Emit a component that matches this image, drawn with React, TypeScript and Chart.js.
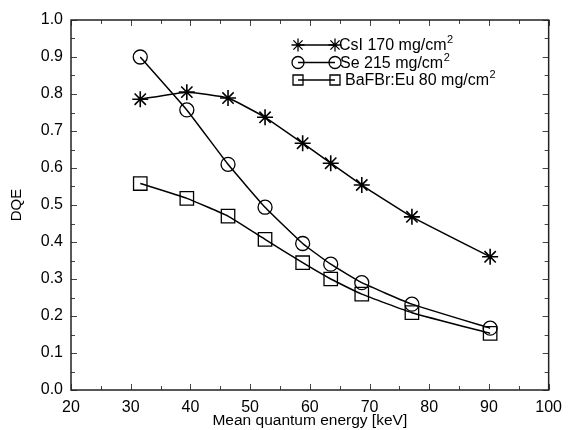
import React, { useEffect, useRef } from "react";
import { Chart, registerables } from "chart.js";

Chart.register(...registerables);

const energies = [31.6, 39.4, 46.3, 52.5, 58.8, 63.5, 68.7, 77.1, 90.2];
const csiValues = [0.786, 0.805, 0.789, 0.737, 0.667, 0.613, 0.554, 0.468, 0.36];
const seValues = [0.9, 0.757, 0.61, 0.494, 0.396, 0.34, 0.29, 0.232, 0.167];
const bafbrValues = [0.558, 0.518, 0.47, 0.407, 0.344, 0.3, 0.259, 0.209, 0.153];
const seriesLabels = ["CsI 170 mg/cm", "Se 215 mg/cm", "BaFBr:Eu 80 mg/cm"];
const seriesStyles = ["star", "circle", "rect"];
const superscript = "2";
const xMin = 20;
const xMax = 100;
const xMajor = 10;
const xMinor = 5;
const yMin = 0;
const yMax = 1;
const yMajor = 0.1;
const yMinor = 0.05;
const xTitle = "Mean quantum energy [keV]";
const yTitle = "DQE";

const FONT = "'Liberation Sans', Arial, Helvetica, sans-serif";

function drawMarker(ctx: CanvasRenderingContext2D, style: string, x: number, y: number, r: number) {
  ctx.beginPath();
  if (style === "circle") {
    ctx.arc(x, y, r, 0, Math.PI * 2);
  } else if (style === "rect") {
    ctx.rect(x - r, y - r, 2 * r, 2 * r);
  } else {
    for (let k = 0; k < 4; k++) {
      const ang = (k * Math.PI) / 4;
      ctx.moveTo(x - Math.cos(ang) * r, y - Math.sin(ang) * r);
      ctx.lineTo(x + Math.cos(ang) * r, y + Math.sin(ang) * r);
    }
  }
  ctx.stroke();
}

const framePlugin = {
  id: "framePlugin",
  afterDraw(chart: any) {
    const { ctx, chartArea: a, scales } = chart;
    const xs = scales.x;
    const ys = scales.y;
    ctx.save();
    ctx.strokeStyle = "#444";
    ctx.lineWidth = 1;
    const n = Math.round((xMax - xMin) / xMinor);
    for (let i = 0; i <= n; i++) {
      const v = xMin + i * xMinor;
      const px = Math.round(xs.getPixelForValue(v)) + 0.5;
      const len = i % Math.round(xMajor / xMinor) === 0 ? 6 : 4;
      ctx.beginPath();
      ctx.moveTo(px, a.bottom);
      ctx.lineTo(px, a.bottom - len);
      ctx.moveTo(px, a.top);
      ctx.lineTo(px, a.top + len);
      ctx.stroke();
    }
    const m = Math.round((yMax - yMin) / yMinor);
    for (let i = 0; i <= m; i++) {
      const v = yMin + i * yMinor;
      const py = Math.round(ys.getPixelForValue(v)) + 0.5;
      const len = i % Math.round(yMajor / yMinor) === 0 ? 6 : 4;
      ctx.beginPath();
      ctx.moveTo(a.left, py);
      ctx.lineTo(a.left + len, py);
      ctx.moveTo(a.right, py);
      ctx.lineTo(a.right - len, py);
      ctx.stroke();
    }
    ctx.strokeStyle = "#222";
    ctx.lineWidth = 1.5;
    ctx.strokeRect(a.left, a.top, a.right - a.left, a.bottom - a.top);

    // legend
    const lx1 = 298;
    const lx2 = 335;
    const rows = [45, 62.5, 80];
    const textX = [339, 340, 345];
    const markerR = [6.5, 6, 5];
    for (let i = 0; i < seriesLabels.length; i++) {
      const y = rows[i];
      ctx.strokeStyle = "#000";
      ctx.lineWidth = 1.3;
      ctx.beginPath();
      ctx.moveTo(lx1, y);
      ctx.lineTo(lx2, y);
      ctx.stroke();
      drawMarker(ctx, seriesStyles[i], lx1, y, markerR[i]);
      drawMarker(ctx, seriesStyles[i], lx2, y, markerR[i]);
      ctx.fillStyle = "#000";
      ctx.font = `16px ${FONT}`;
      ctx.textAlign = "left";
      ctx.textBaseline = "middle";
      ctx.fillText(seriesLabels[i], textX[i], y + 1);
      const w = ctx.measureText(seriesLabels[i]).width;
      ctx.font = `11px ${FONT}`;
      ctx.fillText(superscript, textX[i] + w + 0.5, y - 5);
    }
    ctx.restore();
  },
};

export default function App() {
  const ref = useRef<HTMLCanvasElement | null>(null);
  useEffect(() => {
    if (!ref.current) return;
    const mk = (vals: number[]) => energies.map((x, i) => ({ x, y: vals[i] }));
    const common = {
      borderColor: "#000",
      borderWidth: 1.5,
      backgroundColor: "rgba(0,0,0,0)",
      pointBorderColor: "#000",
      pointBackgroundColor: "rgba(0,0,0,0)",
      pointBorderWidth: 1.3,
      tension: 0.12,
      fill: false,
    };
    const chart = new Chart(ref.current, {
      type: "line",
      data: {
        datasets: [
          { ...common, label: seriesLabels[0], data: mk(csiValues), pointStyle: "star", pointRadius: 8, pointBorderWidth: 1.6 },
          { ...common, label: seriesLabels[1], data: mk(seValues), pointStyle: "circle", pointRadius: 7 },
          { ...common, label: seriesLabels[2], data: mk(bafbrValues), pointStyle: "rect", pointRadius: 9.5 },
        ],
      },
      options: {
        animation: false,
        responsive: false,
        layout: { padding: { top: 20, right: 13, left: 0, bottom: 0 } },
        plugins: { legend: { display: false }, tooltip: { enabled: false } },
        scales: {
          x: {
            type: "linear",
            min: xMin,
            max: xMax,
            grid: { display: false, drawTicks: false },
            border: { display: false },
            ticks: {
              stepSize: xMajor,
              padding: 8,
              color: "#000",
              font: { family: FONT, size: 16 },
            },
            title: {
              display: true,
              text: xTitle,
              color: "#000",
              font: { family: FONT, size: 15.5 },
              padding: { top: 0, bottom: 0 },
            },
            afterFit: (s: any) => {
              s.height = 40;
            },
          },
          y: {
            type: "linear",
            min: yMin,
            max: yMax,
            grid: { display: false, drawTicks: false },
            border: { display: false },
            ticks: {
              stepSize: yMajor,
              padding: 8,
              color: "#000",
              font: { family: FONT, size: 16 },
              callback: (v: any) => Number(v).toFixed(1),
            },
            title: {
              display: true,
              text: yTitle,
              color: "#000",
              font: { family: FONT, size: 15 },
              padding: { top: 8, bottom: 0 },
            },
            afterFit: (s: any) => {
              s.width = 71;
            },
          },
        },
      },
      plugins: [framePlugin],
    });
    return () => chart.destroy();
  }, []);
  return (
    <div style={{ position: "absolute", left: 0, top: 0, width: 570, height: 430, background: "#fff" }}>
      <canvas ref={ref} width={570} height={430} />
    </div>
  );
}
